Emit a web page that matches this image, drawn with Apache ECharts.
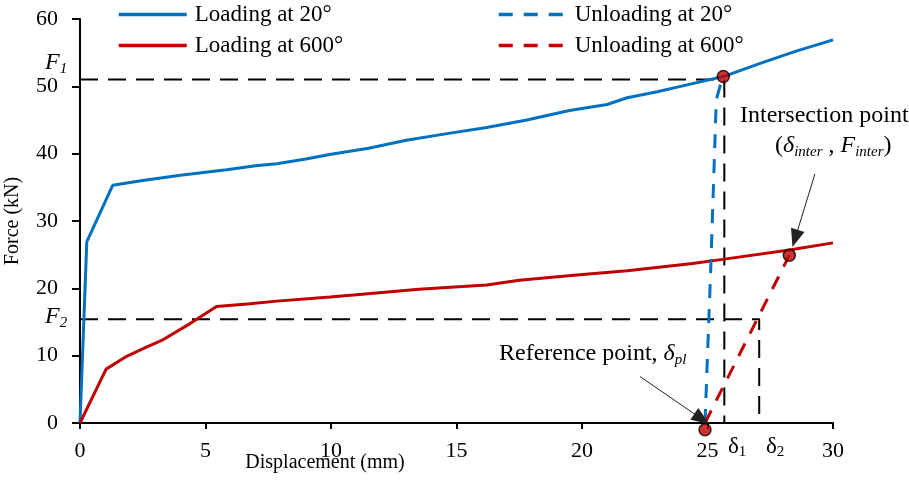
<!DOCTYPE html>
<html>
<head>
<meta charset="utf-8">
<script src="https://cdn.jsdelivr.net/npm/echarts@6/dist/echarts.min.js"></script>
<style>html,body{margin:0;padding:0;background:#fff}#c{width:909px;height:494px}</style>
</head>
<body>
<div id="c"></div>
<script>
// ---- data ----
const loading20 = [[0,0],[0.27,26.9],[1.3,35.3],[2.5,36.0],[4,36.8],[5.84,37.6],[7.0,38.2],[7.84,38.5],[9,39.2],[10,39.9],[11.5,40.8],[13,42.0],[14.5,42.9],[16.2,43.9],[17.8,45.0],[19.5,46.4],[21,47.3],[21.8,48.3],[23,49.2],[24.4,50.4],[25.63,51.45],[27.1,53.4],[28.5,55.2],[30,56.9]];
const loading600 = [[0,0],[1.04,8.0],[1.86,9.9],[2.6,11.2],[3.32,12.4],[4.4,14.8],[5.44,17.3],[6.77,17.7],[7.84,18.1],[9.96,18.7],[10.9,19.0],[13.5,19.85],[16.2,20.5],[17.5,21.2],[19.9,22.0],[21.8,22.6],[24.4,23.7],[25.6,24.3],[28.26,25.7],[30,26.75]];
const unloading20 = [[24.9,0],[25.13,23],[25.35,48],[25.6,51.4]];
const unloading600 = [[24.9,0],[28.26,24.9]];
const pointF1 = [25.63, 51.45];
const pointInter = [28.26, 24.9];
const pointRef = [24.9, -1];
const F1 = 51.0, F2 = 15.4, delta1 = 25.67, delta2 = 27.06;
const arrowRef = [[22.31, 6.9], [24.77, 0.6]];
const arrowInter = [[29.28, 37.0], [28.49, 27.4]];
const names = ['Loading at 20°', 'Loading at 600°', 'Unloading at 20°', 'Unloading at 600°'];

const BLUE = '#0070C0', RED = '#C00000';
const FONT = 'Liberation Serif';

const chart = echarts.init(document.getElementById('c'), null, {renderer: 'canvas'});

const guide = (data) => ({
  type: 'line', data: data, symbol: 'none', silent: true, z: 1,
  lineStyle: {color: '#000', width: 2, type: [18, 10]}
});
const pt = (p) => ({
  type: 'scatter', data: [p], symbol: 'circle', symbolSize: 12, z: 5, clip: false, silent: true,
  itemStyle: {color: RED, borderColor: '#000', borderWidth: 1.5}
});

const sub = {fontFamily: FONT, fontSize: 15, fontStyle: 'italic', verticalAlign: 'top', padding: [11, 0, 0, 0], fill: '#000'};
const subUp = {fontFamily: FONT, fontSize: 15, verticalAlign: 'top', padding: [10, 0, 0, 0], fill: '#000'};
const base = {fontFamily: FONT, fontSize: 24, verticalAlign: 'top', lineHeight: 26, fill: '#000'};
const baseI = Object.assign({}, base, {fontStyle: 'italic'});
const baseD = Object.assign({}, base, {fontSize: 23});

const legendCommon = {
  orient: 'vertical', top: 3, padding: 0, itemWidth: 68, itemHeight: 14, itemGap: 8,
  itemStyle: {opacity: 0},
  lineStyle: {width: 3.5},
  textStyle: {fontFamily: FONT, fontSize: 23, color: '#000', padding: [0, 0, 0, 3]}
};

chart.setOption({
  animation: false,
  backgroundColor: '#fff',
  grid: {left: 80, right: 76, top: 19, bottom: 71},
  xAxis: {
    type: 'value', min: 0, max: 30, interval: 5,
    splitLine: {show: false},
    axisLine: {lineStyle: {color: '#000', width: 2}},
    axisTick: {show: true, inside: false, length: 6, lineStyle: {color: '#000', width: 2}},
    axisLabel: {color: '#000', fontFamily: FONT, fontSize: 22, margin: 17}
  },
  yAxis: {
    type: 'value', min: 0, max: 60, interval: 10,
    splitLine: {show: false},
    axisLine: {show: true, lineStyle: {color: '#000', width: 2}},
    axisTick: {show: true, inside: false, length: 8, lineStyle: {color: '#000', width: 2}},
    axisLabel: {color: '#000', fontFamily: FONT, fontSize: 22, margin: 22}
  },
  legend: [
    Object.assign({data: names.slice(0, 2), left: 117}, legendCommon),
    Object.assign({data: names.slice(2, 4), left: 497}, legendCommon)
  ],
  series: [
    guide([[0, F1], [pointF1[0], F1]]),
    guide([[delta1, F1], [delta1, 0]]),
    guide([[0, F2], [delta2, F2], [delta2, 0]]),
    {name: names[0], type: 'line', data: loading20, symbol: 'none', z: 3, lineStyle: {color: BLUE, width: 3}, itemStyle: {color: BLUE}},
    {name: names[1], type: 'line', data: loading600, symbol: 'none', z: 3, lineStyle: {color: RED, width: 3}, itemStyle: {color: RED}},
    {name: names[2], type: 'line', data: unloading20, symbol: 'none', z: 3, lineStyle: {color: BLUE, width: 3, type: [14, 11]}, itemStyle: {color: BLUE}},
    {name: names[3], type: 'line', data: unloading600, symbol: 'none', z: 3, lineStyle: {color: RED, width: 3, type: [14, 11]}, itemStyle: {color: RED}},
    pt(pointF1), pt(pointInter), pt(pointRef),
    {
      type: 'line', data: [], silent: true,
      markLine: {
        silent: true, symbol: ['none', 'triangle'], symbolSize: [14, 18], animation: false,
        label: {show: false},
        lineStyle: {color: '#222', width: 1, type: 'solid'},
        emphasis: {disabled: true},
        data: [
          [{coord: arrowRef[0]}, {coord: arrowRef[1]}],
          [{coord: arrowInter[0]}, {coord: arrowInter[1]}]
        ]
      }
    }
  ],
  graphic: [
    {type: 'text', x: 325, y: 463, style: {text: 'Displacement (mm)', font: '20px "Liberation Serif"', fill: '#000', align: 'center', verticalAlign: 'middle'}},
    {type: 'text', x: 13, y: 221, rotation: Math.PI / 2, style: {text: 'Force (kN)', font: '20px "Liberation Serif"', fill: '#000', align: 'center', verticalAlign: 'middle'}},
    {type: 'text', x: 45, y: 51, style: {text: '{i|F}{s|1}', rich: {i: baseI, s: sub}}},
    {type: 'text', x: 45, y: 305, style: {text: '{i|F}{s|2}', rich: {i: baseI, s: sub}}},
    {type: 'text', x: 728, y: 435, style: {text: '{b|δ}{s|1}', rich: {b: baseD, s: subUp}}},
    {type: 'text', x: 766, y: 435, style: {text: '{b|δ}{s|2}', rich: {b: baseD, s: subUp}}},
    {type: 'text', x: 499, y: 342, style: {text: '{b|Reference point, }{i|δ}{s|pl}', rich: {b: base, i: baseI, s: sub}}},
    {type: 'text', x: 740, y: 104, style: {text: '{b|Intersection point}', rich: {b: base}}},
    {type: 'text', x: 775, y: 134, style: {text: '{b|(}{i|δ}{s|inter}{b| , }{i|F}{s|inter}{b|)}', rich: {b: base, i: baseI, s: sub}}}
  ]
});
</script>
</body>
</html>
